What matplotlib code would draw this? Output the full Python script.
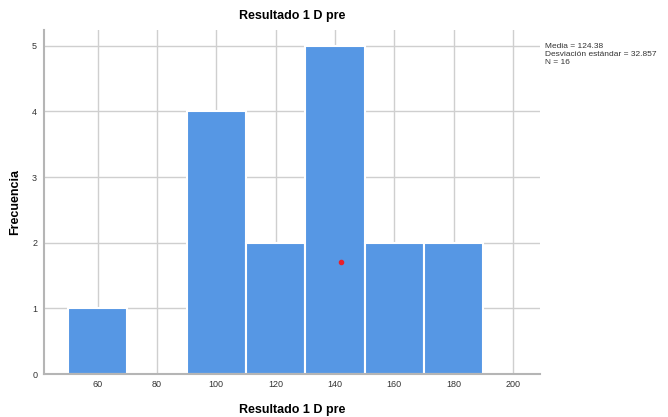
import numpy as np
import matplotlib.pyplot as plt

plt.rcParams['font.family'] = ['Liberation Sans', 'DejaVu Sans']

bin_lefts = [50, 90, 110, 130, 150, 170]
counts = [1, 4, 2, 5, 2, 2]
bin_width = 20
x_ticks = [60, 80, 100, 120, 140, 160, 180, 200]
y_ticks = [0, 1, 2, 3, 4, 5]
dot_x, dot_y = 142, 1.7
stats_text = "Media = 124.38\nDesviación estándar = 32.857\nN = 16"

fig = plt.figure(figsize=(6.68, 4.17), dpi=100)
ax = fig.add_axes([0.066, 0.103, 0.742, 0.825])

ax.bar(bin_lefts, counts, bin_width, align="edge", color="#5697E4",
       edgecolor="white", linewidth=1.5, zorder=2)
ax.plot([dot_x], [dot_y], "o", color="#e8202a", markersize=3, zorder=3)

ax.set_xlim(42, 209)
ax.set_ylim(0, 5.24)
ax.set_xticks(x_ticks)
ax.set_yticks(y_ticks)
ax.grid(True, color="#cfcfcf", linewidth=1, zorder=0)
ax.set_axisbelow(True)
ax.tick_params(axis="x", length=0, labelsize=6.5, colors="#333333", pad=4)
ax.tick_params(axis="y", length=0, labelsize=6.5, colors="#333333", pad=5)
for s in ["top", "right"]:
    ax.spines[s].set_visible(False)
for s in ["left", "bottom"]:
    ax.spines[s].set_color("#b5b5b5")
    ax.spines[s].set_linewidth(1.5)

ax.set_title("Resultado 1 D pre", fontsize=9, fontweight="bold", pad=8)
ax.set_xlabel("Resultado 1 D pre", fontsize=9, fontweight="bold", labelpad=11)
ax.set_ylabel("Frecuencia", fontsize=9, fontweight="bold", labelpad=8)

fig.text(0.816, 0.897, stats_text, fontsize=6, color="#333333",
         va="top", ha="left", linespacing=1.2)

fig.savefig("out.png", dpi=100)
